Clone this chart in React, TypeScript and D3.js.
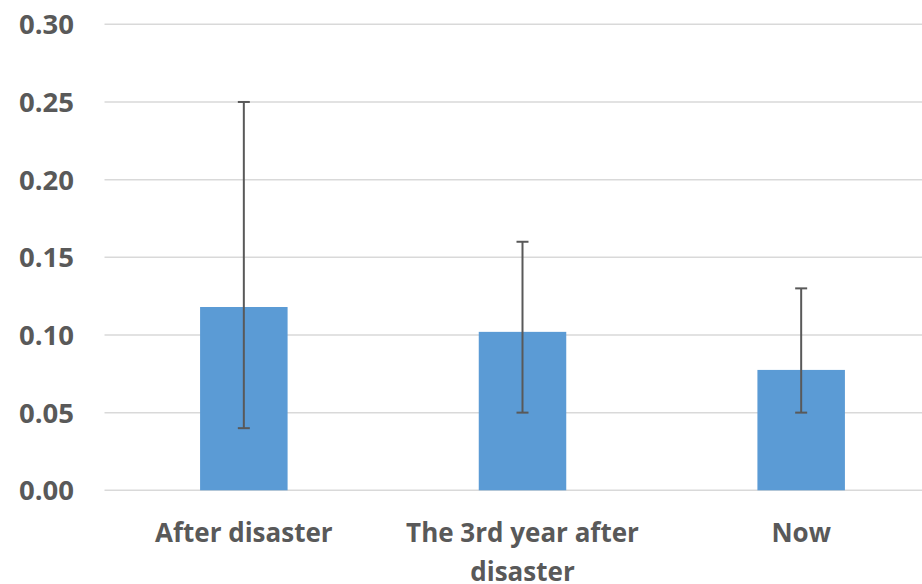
import React, { useEffect, useRef } from "react";
import * as d3 from "d3";

const categories = ["After disaster", "The 3rd year after disaster", "Now"];
const means = [0.118, 0.102, 0.0775];
const errLow = [0.04, 0.05, 0.05];
const errHigh = [0.25, 0.16, 0.13];
const yTicks = [0, 0.05, 0.1, 0.15, 0.2, 0.25, 0.3];

const W = 922;
const H = 584;
const FONT = "'Open Sans', 'Noto Sans', sans-serif";
const TEXT = "#595959";

export default function App() {
  const ref = useRef<SVGSVGElement | null>(null);

  useEffect(() => {
    const svg = d3.select(ref.current);
    svg.selectAll("*").remove();

    const y = d3.scaleLinear().domain([0, 0.3]).range([490.3, 24.3]);
    const x = d3
      .scaleBand<string>()
      .domain(categories)
      .range([104.5, 940.5])
      .paddingInner(0.686)
      .paddingOuter(0.343);

    // gridlines
    svg
      .append("g")
      .selectAll("line")
      .data(yTicks)
      .join("line")
      .attr("x1", 104.5)
      .attr("x2", 940)
      .attr("y1", (d) => y(d))
      .attr("y2", (d) => y(d))
      .attr("stroke", "#d9d9d9")
      .attr("stroke-width", 1.5);

    // y labels
    svg
      .append("g")
      .selectAll("text")
      .data(yTicks)
      .join("text")
      .attr("x", 74)
      .attr("y", (d) => y(d))
      .attr("dy", "0.36em")
      .attr("text-anchor", "end")
      .attr("font-family", FONT)
      .attr("font-weight", "bold")
      .attr("font-size", 27.5)
      .attr("fill", TEXT)
      .text((d) => d3.format(".2f")(d));

    // bars
    svg
      .append("g")
      .selectAll("rect")
      .data(categories)
      .join("rect")
      .attr("x", (d) => x(d)!)
      .attr("width", x.bandwidth())
      .attr("y", (_, i) => y(means[i]))
      .attr("height", (_, i) => y(0) - y(means[i]))
      .attr("fill", "#5b9bd5");

    // error bars
    const eg = svg.append("g").attr("stroke", "#595959").attr("stroke-width", 2);
    categories.forEach((c, i) => {
      const cx = x(c)! + x.bandwidth() / 2;
      eg.append("line").attr("x1", cx).attr("x2", cx).attr("y1", y(errHigh[i])).attr("y2", y(errLow[i]));
      [errHigh[i], errLow[i]].forEach((v) => {
        eg.append("line").attr("x1", cx - 6).attr("x2", cx + 6).attr("y1", y(v)).attr("y2", y(v));
      });
    });

    // x labels with wrapping
    const maxW = 250;
    const lineH = 39;
    categories.forEach((c) => {
      const cx = x(c)! + x.bandwidth() / 2;
      const t = svg
        .append("text")
        .attr("x", cx)
        .attr("y", 542)
        .attr("text-anchor", "middle")
        .attr("font-family", FONT)
        .attr("font-weight", "bold")
        .attr("font-size", 26)
        .attr("fill", TEXT);
      const words = c.split(" ");
      let line: string[] = [];
      let tspan = t.append("tspan").attr("x", cx).attr("dy", 0);
      words.forEach((w) => {
        line.push(w);
        tspan.text(line.join(" "));
        if ((tspan.node() as SVGTSpanElement).getComputedTextLength() > maxW && line.length > 1) {
          line.pop();
          tspan.text(line.join(" "));
          line = [w];
          tspan = t.append("tspan").attr("x", cx).attr("dy", lineH).text(w);
        }
      });
    });
  }, []);

  return (
    <svg
      ref={ref}
      width={W}
      height={H}
      style={{ position: "absolute", left: 0, top: 0, background: "#fff" }}
    />
  );
}
